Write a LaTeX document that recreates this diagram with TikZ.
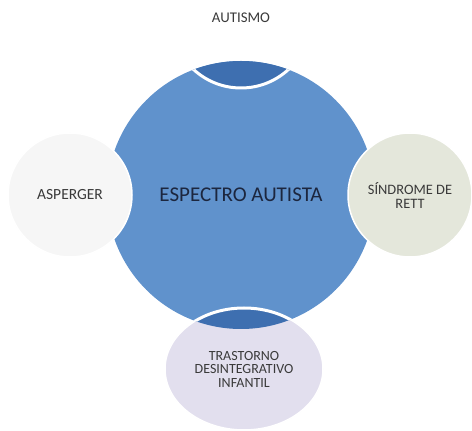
\documentclass[tikz,border=0pt]{standalone}
\usepackage{fontspec}
\setmainfont{Carlito}
\usepackage{tikz}
\usetikzlibrary{shapes.geometric}
\definecolor{hubblue}{RGB}{96,146,204}
\definecolor{darkblue}{RGB}{62,111,176}
\definecolor{sage}{RGB}{228,231,219}
\definecolor{lilac}{RGB}{226,223,238}
\definecolor{paper}{RGB}{246,246,246}
\definecolor{ink}{RGB}{58,58,58}
\definecolor{navy}{RGB}{28,38,62}
\tikzstyle{hub} = [circle, fill=hubblue, minimum size=268pt, inner sep=0pt,
    text=navy, font=\fontsize{21}{24}\selectfont]
\tikzstyle{petal} = [circle, draw=white, line width=1.5pt, minimum size=124pt,
    inner sep=0pt, text=ink, align=center]
\tikzstyle{lens} = [fill=darkblue, draw=white, line width=3pt]

\begin{document}
\begin{tikzpicture}
    \useasboundingbox (0,0) rectangle (472pt,431pt);
    % Place nodes
    \node [hub] (espectro) at (241pt,236pt) {ESPECTRO AUTISTA};
    \node [petal, above of=espectro, node distance=177pt, draw=none,
        minimum size=140pt, font=\fontsize{14.8}{16}\selectfont] (autismo) {AUTISMO};
    \node [petal, left of=espectro, node distance=171pt, fill=paper,
        font=\fontsize{15.5}{17}\selectfont] (asperger) {ASPERGER};
    \node [petal, right of=espectro, node distance=169pt, fill=sage,
        font=\fontsize{14.4}{14}\selectfont] (rett) {SÍNDROME DE\\RETT};
    \node [petal, ellipse, below of=espectro, node distance=174pt, xshift=3pt,
        minimum width=158pt, minimum height=122pt, fill=lilac,
        font=\fontsize{14}{13.5}\selectfont] (infantil) {TRASTORNO\\DESINTEGRATIVO\\INFANTIL};
    % Draw overlaps with the hub
    \begin{scope}
        \clip (espectro.center) circle (134pt);
        \path [lens] (autismo.center) circle (70pt);
        \path [lens] (infantil.center) ellipse (79pt and 61pt);
    \end{scope}
\end{tikzpicture}
\end{document}
